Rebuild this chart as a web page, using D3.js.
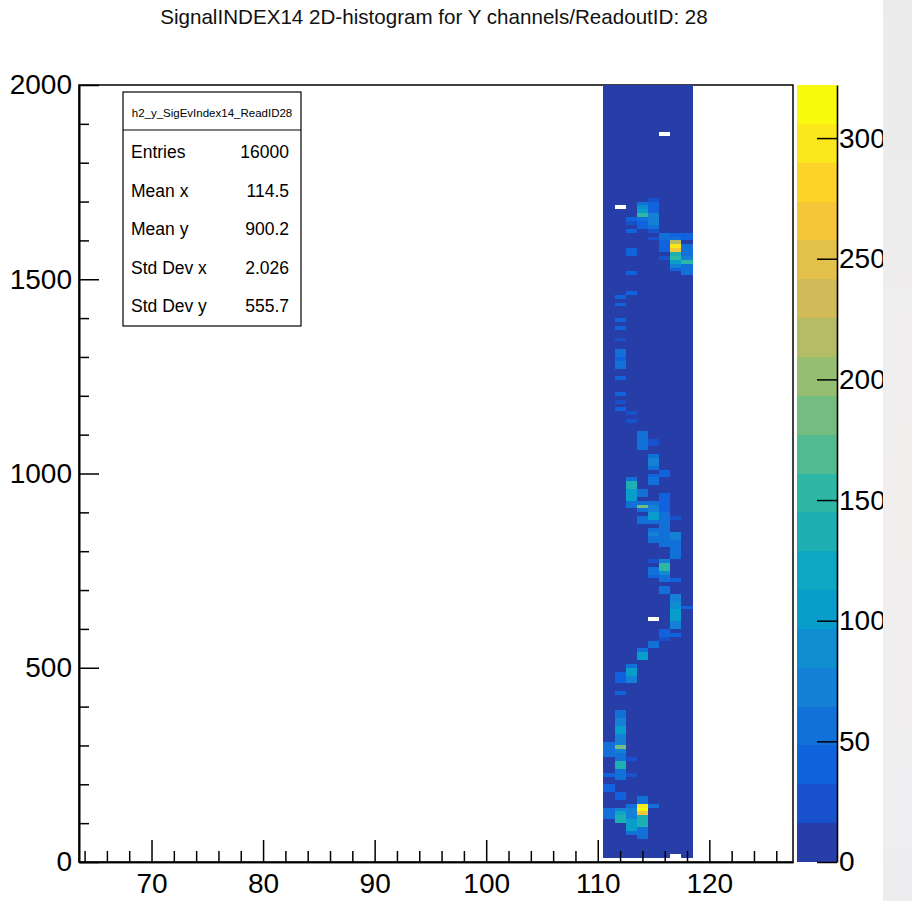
<!DOCTYPE html>
<html>
<head>
<meta charset="utf-8">
<script src="https://cdn.jsdelivr.net/npm/d3@7"></script>
<style>
  html, body { margin: 0; padding: 0; background: #ffffff; }
  svg { display: block; font-family: "Liberation Sans", Arial, Helvetica, sans-serif; }
</style>
</head>
<body>
<svg id="chart" width="912" height="901"></svg>
<script>
// ---- histogram definition ----
const titleText = "SignalINDEX14 2D-histogram for Y channels/ReadoutID: 28";
const histName = "h2_y_SigEvIndex14_ReadID28";
const xRange = [63.5, 127.5];
const yRange = [0, 2000];
const yBinWidth = 10;
// filled x channels (bin centres)
const xChannels = [111, 112, 113, 114, 115, 116, 117, 118];
// typical occupancy of a filled channel bin
const baseCount = 8;
// [channel, yLow, yHigh, count] : bins whose low edge lies in [yLow, yHigh)
const hotCells = [
  [114, 1690, 1700, 60], [114, 1680, 1690, 90], [114, 1670, 1680, 110], [114, 1660, 1670, 150],
  [114, 1650, 1660, 60], [114, 1630, 1650, 40],
  [115, 1700, 1710, 30], [115, 1670, 1700, 40], [115, 1640, 1670, 80], [115, 1630, 1640, 55],
  [115, 1620, 1630, 30], [115, 1600, 1610, 28],
  [113, 1650, 1660, 35], [113, 1640, 1650, 28], [113, 1620, 1630, 35], [113, 1560, 1580, 45],
  [113, 1510, 1520, 35],
  [116, 1600, 1620, 55], [116, 1570, 1600, 40], [116, 1550, 1560, 28],
  [117, 1610, 1620, 35], [117, 1600, 1610, 60], [117, 1590, 1600, 220], [117, 1580, 1590, 300],
  [117, 1570, 1580, 260], [117, 1560, 1570, 140], [117, 1550, 1560, 160], [117, 1540, 1550, 110],
  [117, 1530, 1540, 70], [117, 1520, 1530, 40],
  [118, 1600, 1620, 40], [118, 1560, 1590, 50], [118, 1550, 1560, 80], [118, 1540, 1550, 160],
  [118, 1510, 1540, 50],
  [113, 1460, 1470, 35],
  [112, 1450, 1460, 45], [112, 1430, 1440, 45], [112, 1390, 1400, 40], [112, 1370, 1380, 45],
  [112, 1340, 1350, 30], [112, 1300, 1320, 50], [112, 1290, 1300, 40], [112, 1270, 1290, 50],
  [112, 1240, 1250, 45], [112, 1200, 1210, 45], [112, 1180, 1190, 32], [112, 1160, 1170, 38],
  [113, 1150, 1160, 30], [113, 1130, 1140, 30],
  [114, 1060, 1110, 55],
  [115, 1080, 1090, 30], [115, 1070, 1080, 30], [115, 1040, 1050, 60], [115, 1020, 1040, 75],
  [115, 1010, 1020, 55], [115, 990, 1000, 40], [115, 970, 990, 55],
  [116, 990, 1010, 40],
  [113, 980, 990, 60], [113, 960, 980, 140], [113, 950, 960, 100], [113, 930, 950, 110],
  [113, 910, 930, 60],
  [114, 940, 960, 50], [114, 920, 930, 60], [114, 910, 920, 190], [114, 900, 910, 50],
  [114, 870, 890, 50],
  [115, 920, 930, 60], [115, 900, 920, 80], [115, 880, 900, 110], [115, 870, 880, 60],
  [115, 850, 860, 50], [115, 840, 850, 80], [115, 820, 840, 55],
  [116, 930, 950, 45], [116, 900, 930, 40], [116, 850, 900, 50], [116, 810, 850, 60],
  [117, 880, 890, 30], [117, 830, 850, 70], [117, 780, 830, 55],
  [115, 770, 780, 30], [115, 740, 760, 50], [115, 730, 740, 40],
  [116, 770, 780, 70], [116, 750, 770, 150], [116, 740, 750, 90], [116, 720, 740, 60],
  [116, 690, 710, 50],
  [117, 720, 730, 40], [117, 670, 690, 75], [117, 650, 670, 90], [117, 620, 650, 100],
  [117, 600, 620, 70],
  [118, 650, 660, 40],
  [116, 590, 600, 40], [116, 580, 590, 40], [117, 580, 590, 40], [116, 570, 580, 30],
  [115, 550, 570, 50],
  [114, 540, 550, 55], [114, 520, 540, 100],
  [113, 500, 510, 55], [113, 480, 500, 110], [113, 460, 480, 70],
  [112, 480, 490, 40], [112, 460, 480, 35], [112, 430, 440, 40],
  [112, 370, 390, 50], [112, 350, 370, 75], [112, 330, 350, 100], [112, 310, 330, 65],
  [112, 300, 310, 70], [112, 290, 300, 180], [112, 280, 290, 80], [112, 270, 280, 55],
  [112, 260, 270, 60], [112, 240, 260, 130], [112, 230, 240, 60], [112, 210, 230, 50],
  [111, 270, 310, 50], [111, 220, 230, 45], [111, 180, 200, 45],
  [113, 260, 270, 30], [113, 220, 230, 30],
  [112, 160, 180, 40],
  [111, 110, 140, 50],
  [112, 130, 140, 70], [112, 120, 130, 120], [112, 100, 120, 140],
  [113, 140, 150, 55], [113, 110, 140, 70], [113, 80, 110, 110], [113, 70, 80, 50],
  [114, 150, 170, 60], [114, 140, 150, 290], [114, 130, 140, 322], [114, 120, 130, 260],
  [114, 90, 120, 130], [114, 60, 90, 60],
  [115, 140, 150, 50]
];
// [channel, yLow] : bins with no entries
const emptyCells = [
  [116, 1870], [112, 1680], [115, 620],
  [111, 0], [112, 0], [113, 0], [114, 0], [115, 0], [116, 0], [117, 0], [118, 0],
  [117, 10]
];
// statistics box
const statLabels = ["Entries", "Mean x", "Mean y", "Std Dev x", "Std Dev y"];
const statValues = ["16000", "114.5", "900.2", "2.026", "555.7"];
// axis ticks
const xMajorTicks = [70, 80, 90, 100, 110, 120];
const xMinorTicks = [64, 66, 68, 72, 74, 76, 78, 82, 84, 86, 88, 92, 94, 96, 98,
                     102, 104, 106, 108, 112, 114, 116, 118, 122, 124, 126];
const yMajorTicks = [0, 500, 1000, 1500, 2000];
const yMinorTicks = [100, 200, 300, 400, 600, 700, 800, 900, 1100, 1200, 1300, 1400,
                     1600, 1700, 1800, 1900];
const zTicks = [0, 50, 100, 150, 200, 250, 300];
const nContours = 20;

// ROOT "bird" palette stops
const birdStops = [0.0, 0.125, 0.25, 0.375, 0.5, 0.625, 0.75, 0.875, 1.0];
const birdR = [0.2082, 0.0592, 0.0780, 0.0232, 0.1802, 0.5301, 0.8186, 0.9956, 0.9764];
const birdG = [0.1664, 0.3599, 0.5041, 0.6419, 0.7178, 0.7492, 0.7328, 0.7862, 0.9832];
const birdB = [0.5293, 0.8684, 0.8385, 0.7914, 0.6425, 0.4662, 0.3499, 0.1968, 0.0539];

function birdAt(t) {
  t = Math.max(0, Math.min(1, t));
  let k = 0;
  while (k < birdStops.length - 2 && t > birdStops[k + 1]) k++;
  const f = (t - birdStops[k]) / (birdStops[k + 1] - birdStops[k]);
  const c = a => Math.round(255 * (a[k] + (a[k + 1] - a[k]) * f));
  return d3.rgb(c(birdR), c(birdG), c(birdB)).formatHex();
}
// colour of contour band i, as ROOT picks it from a 255-colour table
const bandColors = d3.range(nContours).map(i =>
  birdAt(Math.min(254, Math.floor((i + 0.99) * 255 / nContours)) / 254));

// ---- build bin contents ----
const nY = (yRange[1] - yRange[0]) / yBinWidth;
const grid = new Map();
xChannels.forEach(xc => {
  for (let j = 0; j < nY; j++) grid.set(xc + ":" + (j * yBinWidth), baseCount);
});
hotCells.forEach(([xc, lo, hi, n]) => {
  for (let yv = lo; yv < hi; yv += yBinWidth) grid.set(xc + ":" + yv, n);
});
emptyCells.forEach(([xc, yv]) => grid.set(xc + ":" + yv, 0));
const cells = [];
grid.forEach((n, key) => {
  const [xc, yv] = key.split(":").map(Number);
  if (n > 0) cells.push({ xc, y: yv, n });
});
const zMax = d3.max(cells, d => d.n);

// ---- layout ----
const svg = d3.select("#chart");
const frame = { left: 79, right: 793, top: 85, bottom: 862 };
const x = d3.scaleLinear().domain(xRange).range([frame.left, frame.right]);
const y = d3.scaleLinear().domain(yRange).range([frame.bottom, frame.top]);
const z = d3.scaleLinear().domain([0, zMax]).range([frame.bottom, frame.top]);
const bandOf = n => Math.min(nContours - 1, Math.floor(n / zMax * nContours));

// title
svg.append("text")
  .attr("x", 434).attr("y", 24)
  .attr("text-anchor", "middle")
  .attr("font-size", 20.6)
  .attr("fill", "#111")
  .text(titleText);

// frame box
svg.append("rect")
  .attr("x", frame.left).attr("y", frame.top)
  .attr("width", frame.right - frame.left).attr("height", frame.bottom - frame.top)
  .attr("fill", "#fff").attr("stroke", "#000").attr("stroke-width", 1.5);

// histogram bins
svg.append("g").attr("shape-rendering", "crispEdges")
  .selectAll("rect").data(cells).join("rect")
  .attr("x", d => x(d.xc - 0.5))
  .attr("width", d => x(d.xc + 0.5) - x(d.xc - 0.5))
  .attr("y", d => y(d.y + yBinWidth))
  .attr("height", d => y(d.y) - y(d.y + yBinWidth))
  .attr("fill", d => bandColors[bandOf(d.n)]);

// axes
function styleAxis(g, size) {
  g.selectAll(".domain").attr("stroke", "#000").attr("stroke-width", 1.6);
  g.selectAll(".tick line").attr("stroke", "#000").attr("stroke-width", 1.5);
  g.selectAll(".tick text").attr("font-size", size).attr("fill", "#000")
    .attr("font-family", "Liberation Sans, Arial, sans-serif");
}
const intFmt = d3.format("d");
const gxMinor = svg.append("g").attr("transform", `translate(0,${frame.bottom})`)
  .call(d3.axisBottom(x).tickValues(xMinorTicks).tickSize(-11).tickSizeOuter(0).tickFormat(""));
styleAxis(gxMinor, 28);
const gx = svg.append("g").attr("transform", `translate(0,${frame.bottom})`)
  .call(d3.axisBottom(x).tickValues(xMajorTicks).tickSize(-22).tickSizeOuter(0)
    .tickPadding(11).tickFormat(intFmt));
styleAxis(gx, 28);

const gyMinor = svg.append("g").attr("transform", `translate(${frame.left},0)`)
  .call(d3.axisLeft(y).tickValues(yMinorTicks).tickSize(-10).tickSizeOuter(0).tickFormat(""));
styleAxis(gyMinor, 28);
const gy = svg.append("g").attr("transform", `translate(${frame.left},0)`)
  .call(d3.axisLeft(y).tickValues(yMajorTicks).tickSize(-20).tickSizeOuter(0)
    .tickPadding(7).tickFormat(intFmt));
styleAxis(gy, 28);

// colour bar
const bar = { left: 797, right: 837 };
svg.append("g").attr("shape-rendering", "crispEdges")
  .selectAll("rect").data(d3.range(nContours)).join("rect")
  .attr("x", bar.left).attr("width", bar.right - bar.left)
  .attr("y", i => z((i + 1) * zMax / nContours))
  .attr("height", i => z(i * zMax / nContours) - z((i + 1) * zMax / nContours))
  .attr("fill", i => bandColors[i]);
const gz = svg.append("g").attr("transform", `translate(${bar.right},0)`)
  .call(d3.axisRight(z).tickValues(zTicks).tickSize(-20).tickSizeOuter(0)
    .tickPadding(2).tickFormat(intFmt));
styleAxis(gz, 28);

// statistics box
const sb = { x: 123, y: 92, w: 178, h: 234, head: 38 };
const stats = svg.append("g");
stats.append("rect")
  .attr("x", sb.x).attr("y", sb.y).attr("width", sb.w).attr("height", sb.h)
  .attr("fill", "#fff").attr("stroke", "#000").attr("stroke-width", 1.2);
stats.append("line")
  .attr("x1", sb.x).attr("x2", sb.x + sb.w)
  .attr("y1", sb.y + sb.head).attr("y2", sb.y + sb.head)
  .attr("stroke", "#000").attr("stroke-width", 1.2);
stats.append("text")
  .attr("x", sb.x + sb.w / 2).attr("y", sb.y + 25)
  .attr("text-anchor", "middle").attr("font-size", 11.5).attr("fill", "#000")
  .text(histName);
statLabels.forEach((lab, i) => {
  const by = 158 + i * 38.5;
  stats.append("text").attr("x", 131).attr("y", by)
    .attr("font-size", 17.5).attr("fill", "#000").text(lab);
  stats.append("text").attr("x", 289).attr("y", by)
    .attr("text-anchor", "end").attr("font-size", 17.5).attr("fill", "#000").text(statValues[i]);
});

// light panel along the right edge of the canvas
const defs = svg.append("defs");
const grad = defs.append("linearGradient").attr("id", "edgePanel")
  .attr("x1", 0).attr("y1", 0).attr("x2", 0).attr("y2", 1);
grad.append("stop").attr("offset", 0).attr("stop-color", "#ebebec");
grad.append("stop").attr("offset", 0.35).attr("stop-color", "#efeded");
grad.append("stop").attr("offset", 0.6).attr("stop-color", "#f2eeee");
grad.append("stop").attr("offset", 1).attr("stop-color", "#ededf0");
svg.append("rect").attr("x", 883).attr("y", 0).attr("width", 29).attr("height", 901)
  .attr("fill", "url(#edgePanel)");
</script>
</body>
</html>
